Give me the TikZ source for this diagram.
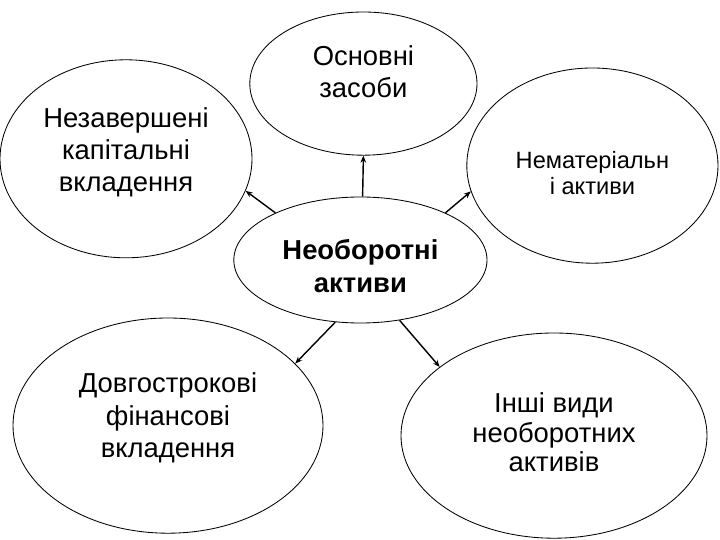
\documentclass[tikz,border=0pt]{standalone}
\usepackage{fontspec}
\setmainfont{Liberation Sans}
\usetikzlibrary{shapes.geometric, positioning, arrows.meta}
\tikzstyle{arrow} = [line width=1pt,-{Stealth[length=5pt,width=4pt]}]

\begin{document}
\begin{tikzpicture}[node distance=3cm]
	\tikzstyle{every node}=[font=\fontsize{19.5}{23}\selectfont]
	\tikzstyle{oval}=[draw=black, ellipse, line width=0.6pt, inner sep=0pt, on grid]
	\tikzstyle{txt}=[align=center, inner sep=0pt]
	\useasboundingbox (0,0) rectangle (18,13.5);
	\node[oval, minimum width=6.33cm, minimum height=3.15cm,
		label={[txt, font=\bfseries\fontsize{19.5}{23}\selectfont, yshift=-0.15cm]center:Необоротні\\активи}]
		(neob) at (9.01,7.0) {};
	\node[oval, minimum width=5.68cm, minimum height=3.58cm, xshift=0.075cm,
		label={[txt, yshift=0.3cm]center:Основні\\засоби}]
		(osn) [above=4.41cm of neob] {};
	\node[oval, minimum width=6.3cm, minimum height=4.95cm,
		label={[txt, yshift=0.16cm]center:Незавершені\\капітальні\\вкладення}]
		(nez) [above left=2.53cm and 5.86cm of neob] {};
	\node[oval, minimum width=6.28cm, minimum height=4.88cm,
		label={[txt, font=\fontsize{16.8}{18.5}\selectfont, yshift=-0.175cm]center:Нематеріальн\\і активи}]
		(nem) [above right=2.36cm and 5.8cm of neob] {};
	\node[oval, minimum width=7.75cm, minimum height=5.38cm,
		label={[txt, yshift=0.19cm]center:Довгострокові\\фінансові\\вкладення}]
		(dov) [below left=4.14cm and 4.81cm of neob] {};
	\node[oval, minimum width=7.65cm, minimum height=5.13cm,
		label={[txt, font=\fontsize{19.5}{21}\selectfont, yshift=0.075cm]center:Інші види\\необоротних\\активів}]
		(insh) [below right=4.39cm and 4.84cm of neob] {};
	\path[arrow]
	(neob.88)	edge	(osn.south)
	(neob.151)	edge	(nez.-15)
	(neob.29)	edge	(nem.-168)
	(neob.-112)	edge	(dov.26)
	(neob.-57)	edge	(insh.149);
\end{tikzpicture}
\end{document}
